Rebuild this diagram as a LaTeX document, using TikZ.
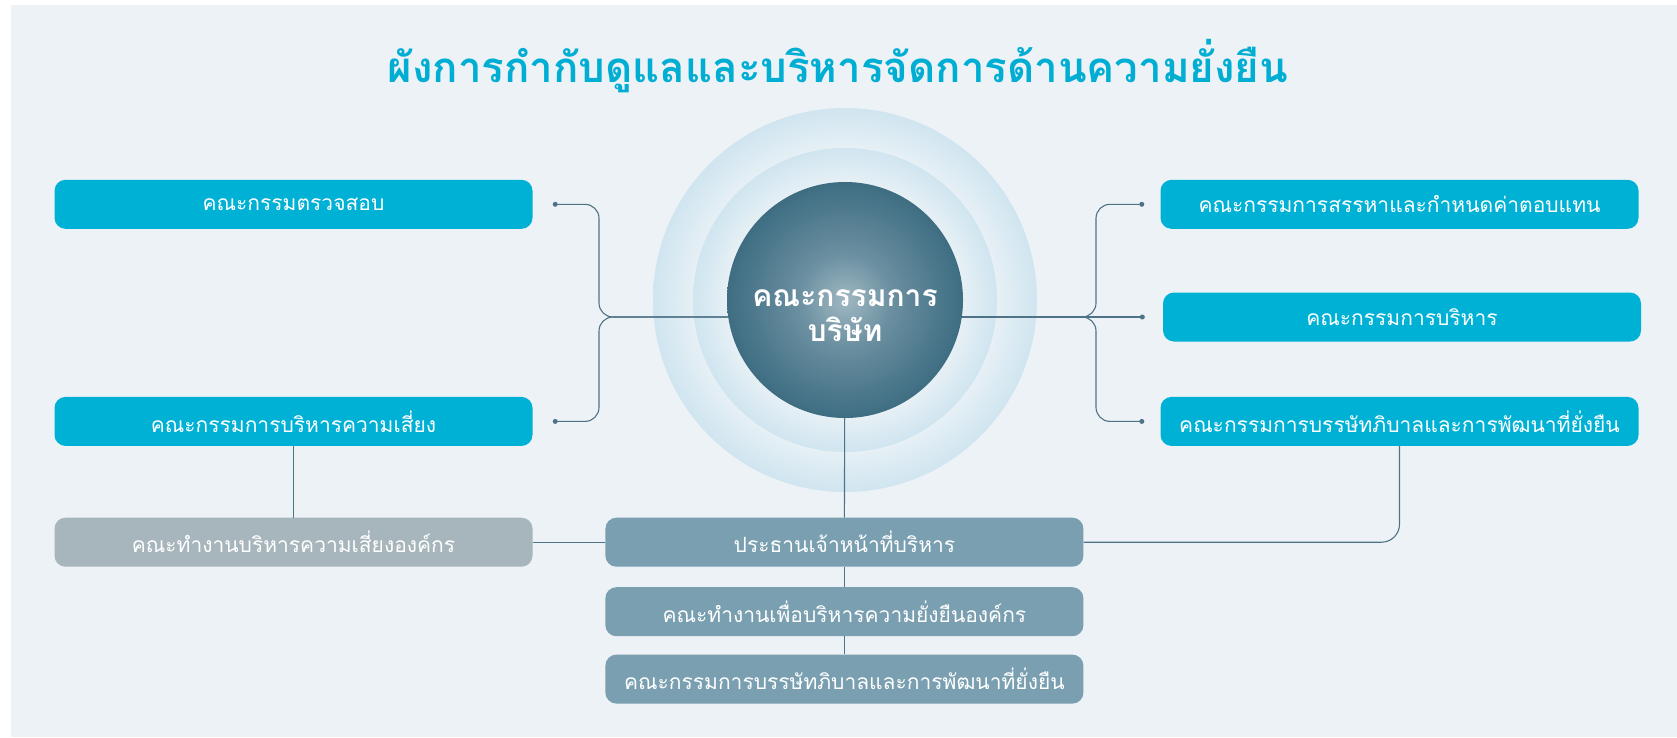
\documentclass[tikz,border=0pt]{standalone}
\usepackage{fontspec}
\newfontfamily\thaifont[Script=Thai]{Loma}
\usepackage{xcolor}
\usepackage{tikz}
\usetikzlibrary{shapes.geometric}

\definecolor{panelbg}{HTML}{EDF2F6}
\definecolor{titlecyan}{HTML}{00AED3}
\definecolor{boxcyan}{HTML}{00B1D6}
\definecolor{boxgrey}{HTML}{A7B5BC}
\definecolor{boxslate}{HTML}{799FB0}
\definecolor{linkcol}{HTML}{4F7386}
\definecolor{ringdark}{HTML}{D0E5F0}
\definecolor{ringlight}{HTML}{E6F0F5}
\definecolor{ballin}{HTML}{A0B8C2}
\definecolor{ballmid}{HTML}{6A8FA0}
\definecolor{ballout}{HTML}{3E6D82}

% radial shadings: 25bp is the rim of the shaded circle
\pgfdeclareradialshading{outerring}{\pgfpoint{0bp}{0bp}}{color(0bp)=(ringlight); color(19.8bp)=(ringlight); color(25bp)=(ringdark); color(50bp)=(ringdark)}
\pgfdeclareradialshading{innerring}{\pgfpoint{0bp}{0bp}}{color(0bp)=(ringlight); color(19.4bp)=(ringlight); color(25bp)=(ringdark); color(50bp)=(ringdark)}
\pgfdeclareradialshading{boardball}{\pgfpoint{0bp}{0bp}}{color(0bp)=(ballin); color(10bp)=(ballmid); color(25bp)=(ballout); color(50bp)=(ballout)}

\tikzstyle{box} = [rectangle,rounded corners=11,minimum width=478,minimum height=49,inner sep=0pt,text=white,font=\thaifont\fontsize{21}{25}\selectfont]
\tikzstyle{cyanbox} = [box,fill=boxcyan]
\tikzstyle{greybox} = [box,fill=boxgrey]
\tikzstyle{slatebox} = [box,fill=boxslate]
\tikzstyle{link} = [draw=linkcol,line width=1.1]
\tikzstyle{dotend} = [circle,fill=linkcol,inner sep=0pt,minimum size=5]

\begin{document}
\begin{tikzpicture}[x=1pt,y=-1pt]
	\useasboundingbox (0,0) rectangle (1677,737);
	\fill [panelbg] (11,5) rectangle (1677,737);

	% Title:
	\node [font=\thaifont\bfseries\fontsize{42}{50}\selectfont,text=titlecyan] (title) at (838,66) {ผังการกำกับดูแลและบริหารจัดการด้านความยั่งยืน};

	% Rings round the board:
	\coordinate (hub) at (845,300);
	\coordinate (spine) at (845,317);
	\shade [shading=outerring] (hub) circle (192);
	\shade [shading=innerring] (hub) circle (152);

	% Committees, left and right:
	\node [cyanbox] (audit)      at (293.5,204.3) {คณะกรรมตรวจสอบ};
	\node [cyanbox] (risk)       at (293.5,421.4) {คณะกรรมการบริหารความเสี่ยง};
	\node [greybox] (riskwg)     at (293.5,542.2) {คณะทำงานบริหารความเสี่ยงองค์กร};
	\node [cyanbox] (nomination) at (1399.5,204.3) {คณะกรรมการสรรหาและกำหนดค่าตอบแทน};
	\node [cyanbox] (executive)  at (1402,317) {คณะกรรมการบริหาร};
	\node [cyanbox] (governance) at (1399.5,421.4) {คณะกรรมการบรรษัทภิบาลและการพัฒนาที่ยั่งยืน};

	% Management, below the board:
	\node [slatebox] (ceo)    at (844.4,542.2) {ประธานเจ้าหน้าที่บริหาร};
	\node [slatebox] (sustwg) at (844.4,611.7) {คณะทำงานเพื่อบริหารความยั่งยืนองค์กร};
	\node [slatebox] (govcom) at (844.4,679.1) {คณะกรรมการบรรษัทภิบาลและการพัฒนาที่ยั่งยืน};

	% Dots at the free ends of the braces:
	\coordinate (auditdot) at ([xshift=22.5]audit.east);
	\coordinate (riskdot)  at ([xshift=22.5]risk.east);
	\coordinate (nomdot)   at ([xshift=-18.5]nomination.west);
	\coordinate (execdot)  at ([xshift=-20.5]executive.west);
	\coordinate (govdot)   at ([xshift=-18.5]governance.west);

	% Braces:
	\begin{scope}[link,rounded corners=14]
		\draw (auditdot) -| (599,317) -- (spine);
		\draw (riskdot)  -| (599,317) -- (spine);
		\draw (nomdot)   -| (1096,317) -- (spine);
		\draw (govdot)   -| (1096,317) -- (spine);
	\end{scope}
	\draw [link] (spine) -- (execdot);
	\foreach \d in {auditdot,riskdot,nomdot,execdot,govdot}
		\node [dotend] at (\d) {};

	% Lines down to the management:
	\draw [link] (hub) -- (ceo.north);
	\draw [link] (ceo.south) -- (sustwg.north);
	\draw [link] (sustwg.south) -- (govcom.north);
	\draw [link] (risk.south) -- (riskwg.north);
	\draw [link] (riskwg.east) -- (ceo.west);
	\draw [link,rounded corners=18] (governance.south) |- (ceo.east);

	% The board itself, on top of the lines:
	\node [circle,minimum size=236,inner sep=0pt,shade,shading=boardball] (board) at (hub) {};
	\node [font=\thaifont\bfseries\fontsize{30}{35}\selectfont,text=white,align=center] (boardlabel) at (845,316) {คณะกรรมการ\\บริษัท};
\end{tikzpicture}
\end{document}
